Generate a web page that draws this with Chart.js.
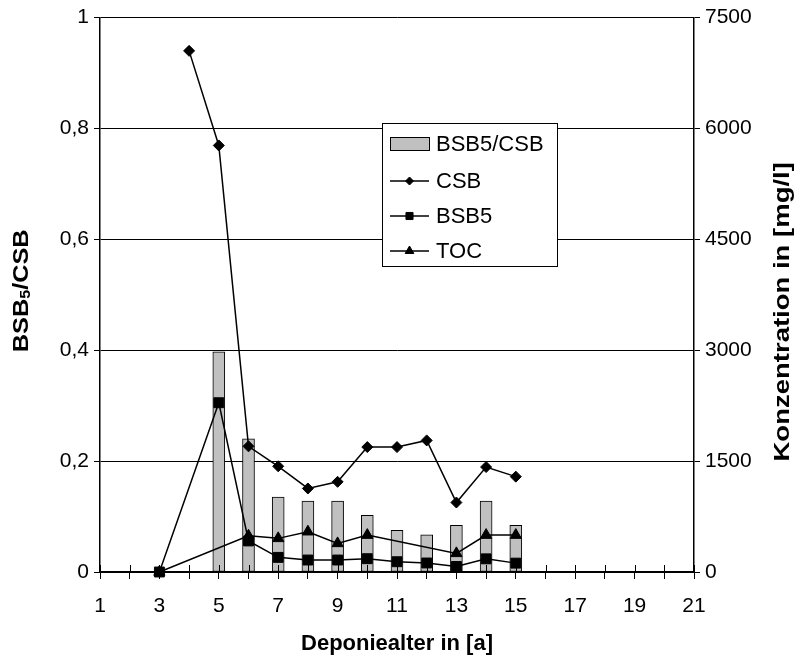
<!DOCTYPE html>
<html>
<head>
<meta charset="utf-8">
<script src="https://cdn.jsdelivr.net/npm/chart.js@4.4.1/dist/chart.umd.min.js"></script>
<style>
  html, body { margin: 0; padding: 0; background: #fff; }
  #wrap { width: 806px; height: 666px; position: relative; }
</style>
</head>
<body>
<div id="wrap"><canvas id="chart"></canvas></div>
<script>
// Landfill age (years) and leachate measurements
const years       = [3, 4, 5, 6, 7, 8, 9, 10, 11, 12, 13, 14, 15];
const ratioBsbCsb = [null, null, 0.397, 0.240, 0.135, 0.128, 0.128, 0.102, 0.075, 0.067, 0.084, 0.128, 0.084];
const csb         = [null, 7050, 5770, 1700, 1430, 1130, 1220, 1690, 1690, 1780, 940, 1420, 1290];
const bsb5        = [0, null, 2290, 420, 198, 162, 162, 180, 139, 122, 75, 178, 120];
const toc         = [0, null, null, 490, 455, 545, 387, 499, null, null, 252, 499, 499];

// Axis ticks
const ageTicks   = [1, 2, 3, 4, 5, 6, 7, 8, 9, 10, 11, 12, 13, 14, 15, 16, 17, 18, 19, 20, 21];
const ratioTicks = [0, 0.2, 0.4, 0.6, 0.8, 1];
const concTicks  = [0, 1500, 3000, 4500, 6000, 7500];

const FONT = "'Liberation Sans', Arial, sans-serif";

function toPoints(values) {
  return years.map((x, i) => ({ x: x, y: values[i] })).filter(p => p.y !== null);
}

// Tick marks on the x axis also reach a little way up into the plot
const innerTicks = {
  id: 'innerTicks',
  afterDatasetDraw(chart, args) {
    if (args.index !== 0) return;
    const { ctx, scales: { x }, chartArea } = chart;
    ctx.save();
    ctx.strokeStyle = '#000';
    ctx.lineWidth = 1;
    ctx.beginPath();
    ageTicks.forEach(v => {
      const px = Math.round(x.getPixelForValue(v)) + 0.5;
      ctx.moveTo(px, chartArea.bottom - 7);
      ctx.lineTo(px, chartArea.bottom);
    });
    ctx.stroke();
    ctx.restore();
  }
};

// Rotated axis titles (both read bottom to top) and the boxed legend
const decorations = {
  id: 'decorations',
  afterDraw(chart) {
    const { ctx, chartArea } = chart;
    const midY = (chartArea.top + chartArea.bottom) / 2;
    ctx.save();
    ctx.fillStyle = '#000';
    ctx.textBaseline = 'middle';

    // left title: BSB5/CSB with subscript 5
    ctx.save();
    ctx.translate(22, midY - 4);
    ctx.rotate(-Math.PI / 2);
    ctx.scale(1.15, 1);
    const big = 'bold 22px ' + FONT, small = 'bold 14px ' + FONT;
    ctx.font = big;
    const w1 = ctx.measureText('BSB').width;
    const w3 = ctx.measureText('/CSB').width;
    ctx.font = small;
    const w2 = ctx.measureText('5').width;
    let sx = -(w1 + w2 + w3) / 2;
    ctx.textAlign = 'left';
    ctx.font = big;  ctx.fillText('BSB', sx, 0); sx += w1;
    ctx.font = small; ctx.fillText('5', sx, 4); sx += w2;
    ctx.font = big;  ctx.fillText('/CSB', sx, 0);
    ctx.restore();

    // right title
    ctx.save();
    ctx.translate(783, midY + 17);
    ctx.rotate(-Math.PI / 2);
    ctx.scale(1.25, 1);
    ctx.font = big;
    ctx.textAlign = 'center';
    ctx.fillText('Konzentration in [mg/l]', 0, 0);
    ctx.restore();

    // legend box
    const bx = 382.5, by = 123.5, bw = 175, bh = 143;
    ctx.fillStyle = '#fff';
    ctx.fillRect(bx, by, bw, bh);
    ctx.strokeStyle = '#000';
    ctx.lineWidth = 1;
    ctx.strokeRect(bx, by, bw, bh);

    const sx0 = 390, sx1 = 429, smid = 409.5, tx = 436;
    const rows = [144, 181, 216, 251];
    ctx.font = '22px ' + FONT;
    ctx.textAlign = 'left';

    // bar swatch
    ctx.fillStyle = '#c0c0c0';
    ctx.fillRect(sx0 + 0.5, rows[0] - 6.5, sx1 - sx0, 13);
    ctx.strokeRect(sx0 + 0.5, rows[0] - 6.5, sx1 - sx0, 13);

    const styles = ['rectRot', 'rect', 'triangle'];
    const radii = [4, 5, 5];
    chart.data.datasets.slice(1).forEach((ds, i) => {
      const y = rows[i + 1];
      ctx.strokeStyle = '#000';
      ctx.lineWidth = 1.5;
      ctx.beginPath();
      ctx.moveTo(sx0, y);
      ctx.lineTo(sx1, y);
      ctx.stroke();
      ctx.fillStyle = '#000';
      ctx.lineWidth = 1;
      Chart.helpers.drawPoint(ctx, { pointStyle: styles[i], radius: radii[i], borderWidth: 1, rotation: 0 }, smid, y);
    });

    ctx.fillStyle = '#000';
    chart.data.datasets.forEach((ds, i) => {
      ctx.fillText(ds.label, tx, rows[i] + 1);
    });
    ctx.restore();
  }
};

const lineCommon = {
  type: 'line',
  yAxisID: 'yR',
  borderColor: '#000',
  borderWidth: 1.5,
  pointBackgroundColor: '#000',
  pointBorderColor: '#000',
  pointBorderWidth: 1,
  tension: 0,
  clip: false,
  order: 1
};

new Chart(document.getElementById('chart'), {
  type: 'line',
  data: {
    datasets: [
      {
        type: 'bar',
        label: 'BSB5/CSB',
        data: toPoints(ratioBsbCsb),
        yAxisID: 'yL',
        backgroundColor: '#c0c0c0',
        borderColor: '#000',
        borderWidth: 1,
        borderSkipped: false,
        barThickness: 12,
        order: 2
      },
      Object.assign({}, lineCommon, { label: 'CSB',  data: toPoints(csb),  pointStyle: 'rectRot',  pointRadius: 5.5 }),
      Object.assign({}, lineCommon, { label: 'BSB5', data: toPoints(bsb5), pointStyle: 'rect',     pointRadius: 7 }),
      Object.assign({}, lineCommon, { label: 'TOC',  data: toPoints(toc),  pointStyle: 'triangle', pointRadius: 6.5 })
    ]
  },
  options: {
    responsive: true,
    maintainAspectRatio: false,
    animation: false,
    devicePixelRatio: 1,
    layout: { padding: { top: 16, left: 0, right: 0, bottom: 0 } },
    plugins: {
      legend: { display: false },
      tooltip: { enabled: false }
    },
    scales: {
      x: {
        type: 'linear',
        position: 'bottom',
        min: 1,
        max: 21,
        offset: false,
        afterBuildTicks: s => { s.ticks = ageTicks.map(v => ({ value: v })); },
        afterFit: s => { s.height = 94; },
        ticks: {
          autoSkip: false,
          maxRotation: 0,
          padding: 15,
          color: '#000',
          font: { family: FONT, size: 21 },
          callback: v => (v % 2 === 1 ? String(v) : '')
        },
        grid: { offset: false, drawOnChartArea: false, color: '#000', lineWidth: 1, tickLength: 7 },
        border: { color: '#000', width: 1.5 },
        title: {
          display: true,
          text: 'Deponiealter in [a]',
          color: '#000',
          font: { family: FONT, size: 22, weight: 'bold' },
          padding: { top: 0, bottom: 9 }
        }
      },
      yL: {
        type: 'linear',
        position: 'left',
        min: 0,
        max: 1,
        afterBuildTicks: s => { s.ticks = ratioTicks.map(v => ({ value: v })); },
        afterFit: s => { s.width = 100; },
        ticks: {
          padding: 5,
          color: '#000',
          font: { family: FONT, size: 21 },
          callback: v => String(Math.round(v * 10) / 10).replace('.', ',')
        },
        grid: { color: '#000', lineWidth: 1, tickLength: 6 },
        border: { color: '#000', width: 1.5 }
      },
      yR: {
        type: 'linear',
        position: 'right',
        min: 0,
        max: 7500,
        afterBuildTicks: s => { s.ticks = concTicks.map(v => ({ value: v })); },
        afterFit: s => { s.width = 112; },
        ticks: {
          padding: 5,
          color: '#000',
          font: { family: FONT, size: 21 },
          callback: v => String(v)
        },
        grid: { drawOnChartArea: false, color: '#000', lineWidth: 1, tickLength: 6 },
        border: { color: '#000', width: 1.5 }
      }
    }
  },
  plugins: [innerTicks, decorations]
});
</script>
</body>
</html>
